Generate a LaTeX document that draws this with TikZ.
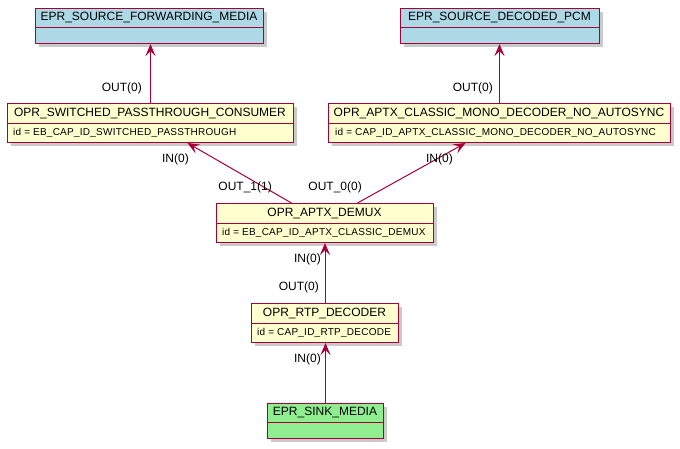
\documentclass[tikz,border=0pt]{standalone}
\usepackage{fontspec}
\setmainfont{Liberation Sans}
\newfontfamily\idfont[LetterSpace=2.5]{Liberation Sans}
\usetikzlibrary{arrows.meta,shadows,calc}
\definecolor{bord}{HTML}{A80036}
\definecolor{yel}{HTML}{FEFECE}
\definecolor{blu}{HTML}{ADD8E6}
\definecolor{grn}{HTML}{90EE90}
\tikzset{
 box/.style={draw=bord, line width=1pt, rectangle, inner sep=0pt, anchor=north west,
   drop shadow={shadow xshift=3pt, shadow yshift=-3pt, fill=black!60, opacity=0.35}},
 divl/.style={draw=bord, line width=1pt},
 ttl/.style={font=\fontsize{12}{14}\selectfont, inner sep=0pt},
 idt/.style={font=\idfont\fontsize{10}{12}\selectfont, inner sep=0pt, anchor=west},
 lbl/.style={font=\fontsize{12}{14}\selectfont, inner sep=0pt, anchor=east},
 conn/.style={draw=bord, line width=1pt, -{Stealth[length=12pt,width=10pt,inset=5pt]}}
}
\begin{document}
\begin{tikzpicture}[x=1pt,y=-1pt]
\useasboundingbox (0,0) rectangle (680,448);
% boxes
\node[box, fill=blu, minimum width=228pt, minimum height=35pt] (fwd) at (35,8) {};
\draw[divl] (35,27) -- (263,27);
\node[ttl] at (149,17.5) {EPR\_SOURCE\_FORWARDING\_MEDIA};

\node[box, fill=blu, minimum width=199pt, minimum height=35pt] (pcm) at (400,8) {};
\draw[divl] (400,27) -- (599,27);
\node[ttl] at (499.5,17.5) {EPR\_SOURCE\_DECODED\_PCM};

\node[box, fill=yel, minimum width=286pt, minimum height=39pt] (pt) at (7,103) {};
\draw[divl] (7,123) -- (293,123);
\node[ttl] at (150,113) {OPR\_SWITCHED\_PASSTHROUGH\_CONSUMER};
\node[idt] at (13,133) {id = EB\_CAP\_ID\_SWITCHED\_PASSTHROUGH};

\node[box, fill=yel, minimum width=342pt, minimum height=39pt] (ax) at (328,103) {};
\draw[divl] (328,123) -- (670,123);
\node[ttl] at (499,113) {OPR\_APTX\_CLASSIC\_MONO\_DECODER\_NO\_AUTOSYNC};
\node[idt] at (335,133) {id = CAP\_ID\_APTX\_CLASSIC\_MONO\_DECODER\_NO\_AUTOSYNC};

\node[box, fill=yel, minimum width=217pt, minimum height=39pt] (dm) at (216,203) {};
\draw[divl] (216,223) -- (433,223);
\node[ttl] at (324.5,213) {OPR\_APTX\_DEMUX};
\node[idt] at (222,233) {id = EB\_CAP\_ID\_APTX\_CLASSIC\_DEMUX};

\node[box, fill=yel, minimum width=147pt, minimum height=39pt] (rtp) at (251,303) {};
\draw[divl] (251,323) -- (398,323);
\node[ttl] at (324.5,313) {OPR\_RTP\_DECODER};
\node[idt] at (257,333) {id = CAP\_ID\_RTP\_DECODE};

\node[box, fill=grn, minimum width=116pt, minimum height=35pt] (sink) at (267,403) {};
\draw[divl] (267,422) -- (383,422);
\node[ttl] at (325,412.5) {EPR\_SINK\_MEDIA};

% connectors
\draw[conn] (pt.north) -- (pt.north |- fwd.south);
\draw[conn] (ax.north) -- (ax.north |- pcm.south);
\draw[conn] ([xshift=-33.5pt]dm.north) -- ([xshift=37pt]pt.south);
\draw[conn] ([xshift=32.5pt]dm.north) -- ([xshift=-34pt]ax.south);
\draw[conn] (rtp.north) -- (rtp.north |- dm.south);
\draw[conn] (sink.north) -- (sink.north |- rtp.south);

% labels
\node[lbl] (l1) at (142,88) {OUT(0)};
\node[lbl] (l2) at (493,88) {OUT(0)};
\node[lbl] (l3) at (189,159) {IN(0)};
\node[lbl] (l4) at (453,159) {IN(0)};
\node[lbl] (l5) at (272,187) {OUT\_1(1)};
\node[lbl] (l6) at (362,187) {OUT\_0(0)};
\node[lbl] (l7) at (321,259) {IN(0)};
\node[lbl] (l8) at (319,287) {OUT(0)};
\node[lbl] (l9) at (321,359) {IN(0)};
\end{tikzpicture}
\end{document}
